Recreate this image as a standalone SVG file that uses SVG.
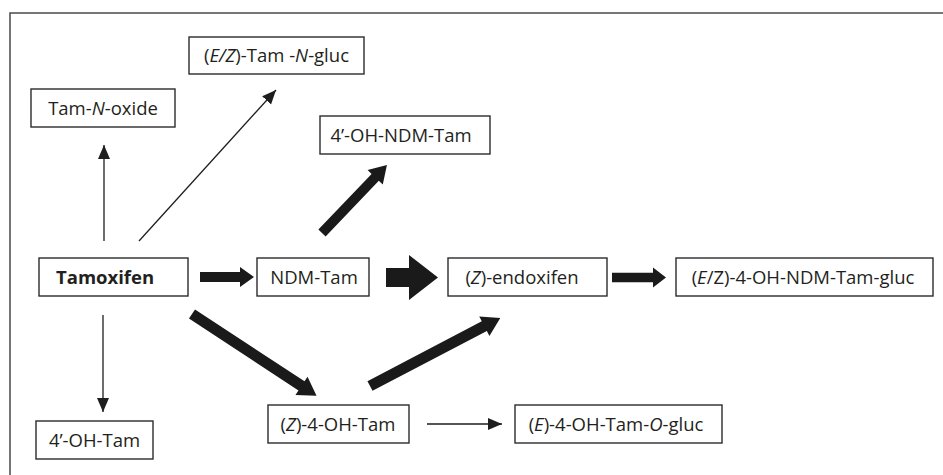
<svg xmlns="http://www.w3.org/2000/svg" width="943" height="475" viewBox="0 0 943 475">
<style>
.box{fill:#fff;stroke:#2b2b2b;stroke-width:1.4}
.t{font-family:"Open Sans","Noto Sans","Liberation Sans",sans-serif;font-size:18.5px;fill:#231f20;text-anchor:middle}
.b{font-weight:bold;text-anchor:start}
.i{font-style:italic}
.thin{stroke:#1e1e1e;stroke-width:1.3;fill:none;marker-end:url(#ah)}
.thick{fill:#1a1a1a}
</style>
<defs>
<marker id="ah" markerUnits="userSpaceOnUse" markerWidth="14" markerHeight="14" viewBox="0 0 14 12" refX="14" refY="6" orient="auto">
<path d="M0,0 L14,6 L0,12 Z" fill="#1e1e1e"/>
</marker>
</defs>
<rect width="943" height="475" fill="#fff"/>
<path d="M10,475 V13 H943" fill="none" stroke="#4a4a4a" stroke-width="1.5"/>

<g id="connectors">
<line class="thin" x1="104" y1="241" x2="104" y2="145"/>
<line class="thin" x1="139" y1="241" x2="276" y2="90"/>
<line class="thin" x1="103" y1="315" x2="103" y2="412"/>
<line class="thin" x1="427" y1="424" x2="502" y2="424"/>
<polygon class="thick" transform="translate(200,277)" points="0,-5 40,-5 40,-10 54,0 40,10 40,5 0,5"/>
<polygon class="thick" points="386,268 409,268 409,255 438,277.5 409,300 409,287 386,287"/>
<polygon class="thick" transform="translate(612,277.5)" points="0,-4.8 41,-4.8 41,-10 54,0 41,10 41,4.8 0,4.8"/>
<polygon class="thick" transform="translate(322,233) rotate(-46.3)" points="0,-5 77,-5 77,-10.5 94,0 77,10.5 77,5 0,5"/>
<polygon class="thick" transform="translate(192,314) rotate(33.3)" points="0,-5.5 131,-5.5 131,-11 149,0 131,11 131,5.5 0,5.5"/>
<polygon class="thick" transform="translate(370,386) rotate(-27.6)" points="0,-5.5 129,-5.5 129,-11 147,0 129,11 129,5.5 0,5.5"/>
</g>

<g id="ezTamNgluc"><rect class="box" x="189" y="37" width="175" height="37"/><text class="t" x="276.5" y="62">(<tspan class="i">E/Z</tspan>)-Tam -<tspan class="i">N</tspan>-gluc</text></g>
<g id="tamNoxide"><rect class="box" x="31" y="89" width="144" height="38"/><text class="t" x="103" y="115">Tam-<tspan class="i">N</tspan>-oxide</text></g>
<g id="ohNdmTam"><rect class="box" x="320" y="116" width="170" height="38"/><text class="t" x="401" y="142">4’-OH-NDM-Tam</text></g>
<g id="tamoxifen"><rect class="box" x="39" y="258" width="149" height="38"/><text class="t b" x="56" y="284">Tamoxifen</text></g>
<g id="ndmTam"><rect class="box" x="257" y="258" width="112" height="38"/><text class="t" x="314" y="284">NDM-Tam</text></g>
<g id="endoxifen"><rect class="box" x="448" y="258" width="159" height="38"/><text class="t" x="522" y="284">(<tspan class="i">Z</tspan>)-endoxifen</text></g>
<g id="ezOhNdmTamGluc"><rect class="box" x="676" y="258" width="257" height="38"/><text class="t" x="803" y="284">(<tspan class="i">E</tspan>/Z)-4-OH-NDM-Tam-gluc</text></g>
<g id="z4ohTam"><rect class="box" x="268" y="405" width="141" height="38"/><text class="t" x="338" y="431">(<tspan class="i">Z</tspan>)-4-OH-Tam</text></g>
<g id="e4ohTamOgluc"><rect class="box" x="515" y="405" width="207" height="38"/><text class="t" x="616" y="431">(<tspan class="i">E</tspan>)-4-OH-Tam-<tspan class="i">O</tspan>-gluc</text></g>
<g id="ohTam"><rect class="box" x="36" y="421" width="117" height="38"/><text class="t" x="94.5" y="447">4’-OH-Tam</text></g>
</svg>
